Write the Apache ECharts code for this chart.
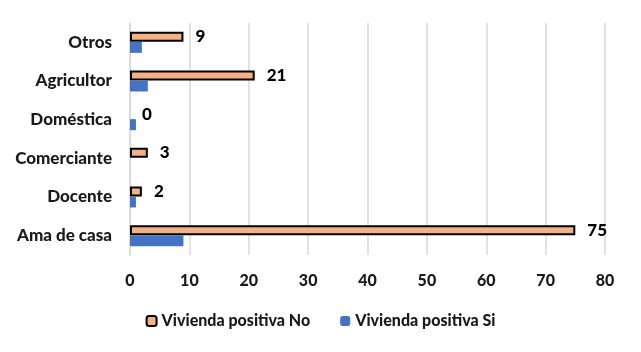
<!DOCTYPE html>
<html>
<head>
<meta charset="utf-8">
<script src="https://cdn.jsdelivr.net/npm/echarts@6/dist/echarts.min.js"></script>
<style>
  html, body { margin: 0; padding: 0; background: #fff; }
  #chart { width: 641px; height: 352px; }
</style>
</head>
<body>
<div id="chart"></div>
<script>
var categories = ['Ama de casa', 'Docente', 'Comerciante', 'Doméstica', 'Agricultor', 'Otros'];
var viviendaNo = [75, 2, 3, 0, 21, 9];
var viviendaSi = [9, 1, 0, 1, 3, 2];
var xTicks = [0, 10, 20, 30, 40, 50, 60, 70, 80];

var font = 'Lato, "Open Sans", sans-serif';
var weight = 900;

// zero-length bars should not show their border
var noData = viviendaNo.map(function (v) {
    return v === 0 ? { value: v, itemStyle: { borderWidth: 0 } } : v;
});

var myChart = echarts.init(document.getElementById('chart'));
var option = {
    animation: false,
    textStyle: { fontFamily: font },
    grid: { left: 130, right: 36, top: 23, bottom: 97 },
    legend: {
        bottom: 18,
        left: 'center',
        itemWidth: 10,
        itemHeight: 10,
        itemGap: 30,
        textStyle: { fontSize: 16, fontWeight: weight, color: '#1a1a1a', fontFamily: font },
        data: ['Vivienda positiva No', 'Vivienda positiva Si']
    },
    xAxis: {
        type: 'value',
        min: xTicks[0],
        max: xTicks[xTicks.length - 1],
        interval: 10,
        axisLine: { show: false },
        axisTick: { show: false },
        axisLabel: { fontSize: 16, fontWeight: weight, color: '#1a1a1a', margin: 18 },
        splitLine: { lineStyle: { color: '#d9d9d9', width: 1.5 } }
    },
    yAxis: {
        type: 'category',
        data: categories,
        axisLine: { lineStyle: { color: '#d9d9d9', width: 1.5 } },
        axisTick: { show: false },
        axisLabel: { fontSize: 17, fontWeight: weight, color: '#1a1a1a', margin: 18 }
    },
    series: [
        {
            name: 'Vivienda positiva No',
            type: 'bar',
            data: noData,
            barWidth: 10,
            barGap: '0%',
            itemStyle: { color: '#F4B183', borderColor: '#000', borderWidth: 2 },
            label: {
                show: true,
                position: 'right',
                distance: 12,
                fontSize: 17,
                fontWeight: weight,
                color: '#000'
            }
        },
        {
            name: 'Vivienda positiva Si',
            type: 'bar',
            data: viviendaSi,
            barWidth: 11,
            barGap: '0%',
            itemStyle: { color: '#4472C4' }
        }
    ]
};
myChart.setOption(option);
</script>
</body>
</html>
